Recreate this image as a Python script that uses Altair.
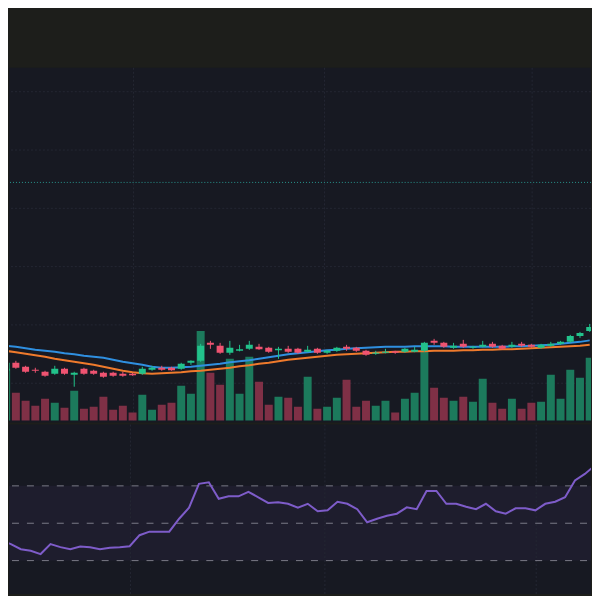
import altair as alt
import pandas as pd

# ---------------- data ----------------
opens = [63.0, 63.8, 63.4, 63.1, 62.9, 62.7, 63.2, 62.6, 63.2, 63.0,
         62.8, 62.8, 62.7, 62.7, 62.7, 63.1, 63.3, 63.3, 63.2, 63.8,
         64.0, 65.8, 65.5, 64.8, 65.0, 65.2, 65.4, 65.3, 65.05, 65.2,
         65.2, 64.9, 65.2, 64.8, 65.0, 65.4, 65.3, 65.0, 64.7, 64.8,
         64.95, 64.9, 64.9, 65.0, 66.0, 65.8, 65.3, 65.7, 65.3, 65.4,
         65.7, 65.5, 65.4, 65.7, 65.6, 65.3, 65.5, 65.7, 65.9, 66.5, 67.0]
highs = [64.0, 64.0, 63.5, 63.3, 63.0, 63.5, 63.3, 62.9, 63.3, 63.1,
         62.9, 62.9, 62.9, 62.8, 63.4, 63.5, 63.5, 63.4, 63.8, 64.05,
         65.7, 66.0, 65.8, 66.0, 65.6, 66.0, 65.7, 65.4, 65.4, 65.5,
         65.3, 65.5, 65.3, 65.1, 65.4, 65.6, 65.4, 65.1, 65.0, 65.2,
         65.0, 65.3, 65.4, 65.9, 66.2, 65.9, 65.8, 66.1, 65.5, 66.0,
         65.9, 65.6, 65.9, 65.9, 65.7, 65.7, 65.9, 66.0, 66.6, 66.9, 67.7]
lows = [62.8, 63.2, 62.8, 62.8, 62.4, 62.6, 62.6, 61.4, 62.6, 62.6,
        62.3, 62.4, 62.4, 62.5, 62.6, 63.0, 63.0, 63.0, 63.1, 63.6,
        63.9, 65.2, 64.7, 64.6, 64.95, 65.1, 65.1, 64.8, 64.2, 64.8,
        64.7, 64.85, 64.7, 64.7, 64.9, 65.0, 64.9, 64.5, 64.6, 64.75,
        64.7, 64.8, 64.85, 64.9, 65.6, 65.3, 65.2, 65.3, 65.2, 65.35,
        65.3, 65.1, 65.3, 65.4, 65.3, 65.2, 65.4, 65.6, 65.8, 66.3, 66.9]
closes = [63.8, 63.3, 62.9, 63.0, 62.5, 63.2, 62.7, 62.8, 62.7, 62.7,
          62.4, 62.5, 62.5, 62.55, 63.2, 63.3, 63.1, 63.05, 63.7, 64.0,
          65.5, 65.6, 64.8, 65.3, 65.15, 65.6, 65.15, 64.9, 65.2, 64.9,
          64.8, 65.1, 64.8, 65.0, 65.3, 65.2, 65.0, 64.6, 64.8, 64.9,
          64.8, 65.2, 65.1, 65.8, 65.8, 65.4, 65.5, 65.4, 65.4, 65.6,
          65.4, 65.2, 65.6, 65.5, 65.4, 65.6, 65.7, 65.9, 66.5, 66.8, 67.4]
volumes = [5200, 2800, 2000, 1500, 2200, 1800, 1300, 3000, 1200, 1400,
           2400, 1100, 1500, 800, 2600, 1100, 1600, 1800, 3500, 2700,
           9000, 4800, 3600, 6200, 2700, 6400, 3900, 1600, 2400, 2300,
           1400, 4400, 1200, 1400, 2300, 4100, 1400, 2000, 1500, 2000,
           800, 2200, 2800, 7000, 3300, 2300, 2000, 2400, 1900, 4200,
           1800, 1200, 2200, 1200, 1800, 1900, 4600, 2200, 5100, 4300, 6300]
ma_fast = [65.5, 65.4, 65.25, 65.1, 65.0, 64.9, 64.75, 64.65, 64.5, 64.4,
           64.3, 64.1, 63.9, 63.75, 63.6, 63.4, 63.3, 63.3, 63.35, 63.4,
           63.5, 63.6, 63.7, 63.85, 63.95, 64.05, 64.2, 64.35, 64.5, 64.65,
           64.75, 64.85, 64.95, 65.05, 65.1, 65.2, 65.25, 65.3, 65.35, 65.4,
           65.4, 65.4, 65.45, 65.45, 65.45, 65.45, 65.4, 65.4, 65.4, 65.4,
           65.4, 65.4, 65.45, 65.45, 65.5, 65.55, 65.6, 65.7, 65.8, 65.9, 66.05]
ma_slow = [65.0, 64.85, 64.7, 64.55, 64.4, 64.2, 64.05, 63.9, 63.75, 63.6,
           63.4, 63.2, 63.0, 62.85, 62.75, 62.7, 62.75, 62.8, 62.85, 62.95,
           63.0, 63.1, 63.2, 63.3, 63.45, 63.55, 63.7, 63.8, 63.95, 64.1,
           64.2, 64.3, 64.4, 64.5, 64.6, 64.65, 64.7, 64.75, 64.8, 64.85,
           64.9, 64.9, 64.95, 64.95, 65.0, 65.0, 65.0, 65.05, 65.05, 65.1,
           65.1, 65.15, 65.15, 65.2, 65.25, 65.3, 65.35, 65.4, 65.45, 65.5, 65.6]
rsi = [40.9, 38.8, 36.1, 35.3, 33.5, 38.8, 37.2, 36.1, 37.5, 37.2,
       36.1, 36.9, 37.2, 37.7, 43.6, 45.5, 45.5, 45.5, 52.4, 58.3,
       71.1, 71.9, 63.1, 64.4, 64.4, 66.8, 63.9, 60.9, 61.2, 60.4,
       58.3, 60.4, 56.4, 56.9, 61.5, 60.4, 57.5, 50.5, 52.4, 54.0,
       55.1, 58.5, 57.5, 67.3, 67.3, 60.4, 60.4, 58.8, 57.5, 60.4,
       56.4, 55.1, 58.0, 58.0, 56.9, 60.4, 61.5, 63.9, 72.9, 76.4, 80.9]

price_grid = [91.0, 85.15, 79.3, 73.45, 67.6, 61.75]
time_grid = [13.09, 32.73, 54.08]
rsi_levels = [30, 50, 70]
alert_price = [81.9]

# ---------------- styling ----------------
HEADER_BG = "#1d1e1b"
PANE_BG = "#171922"
GRID = "#242733"
UP = "#22c28b"
DOWN = "#ef5371"
UP_VOL = "#1c7a5c"
DOWN_VOL = "#7f3046"
MA_FAST = "#2f8fe0"
MA_SLOW = "#ef7a2c"
RSI_C = "#7e5cc9"
ALERT = "#2aa198"

W = 584
H_PRICE = 356
H_RSI = 170

df = pd.DataFrame({
    "i": list(range(len(opens))),
    "open": opens, "high": highs, "low": lows, "close": closes,
    "volume": volumes, "ma_fast": ma_fast, "ma_slow": ma_slow, "rsi": rsi,
})

xs = alt.Scale(domain=[0.806, 59.62], nice=False, zero=False)
ps = alt.Scale(domain=[57.8, 93.4], nice=False, zero=False)
vs = alt.Scale(domain=[-200, 35400], nice=False, zero=False)
rs = alt.Scale(domain=[12.13, 102.8], nice=False, zero=False)

X = alt.X("i:Q", scale=xs, axis=None)
up_cond = "datum.close >= datum.open"
base = alt.Chart(df)

# ---- price pane ----
hgrid = alt.Chart(pd.DataFrame({"p": price_grid})).mark_rule(
    color=GRID, strokeDash=[2, 2], strokeWidth=1
).encode(y=alt.Y("p:Q", scale=ps, axis=None))

vgrid = alt.Chart(pd.DataFrame({"t": time_grid})).mark_rule(
    color=GRID, strokeDash=[2, 2], strokeWidth=1
).encode(x=alt.X("t:Q", scale=xs, axis=None))

alert = alt.Chart(pd.DataFrame({"p": alert_price})).mark_rule(
    color=ALERT, strokeDash=[1, 2], strokeWidth=1, opacity=0.9
).encode(y=alt.Y("p:Q", scale=ps, axis=None))

vol = base.mark_bar(size=8, clip=True).encode(
    x=X,
    y=alt.Y("volume:Q", scale=vs, axis=None),
    y2=alt.datum(0),
    color=alt.condition(up_cond, alt.value(UP_VOL), alt.value(DOWN_VOL)),
)

slow = base.mark_line(color=MA_SLOW, strokeWidth=2, clip=True).encode(
    x=X, y=alt.Y("ma_slow:Q", scale=ps, axis=None))
fast = base.mark_line(color=MA_FAST, strokeWidth=2, clip=True).encode(
    x=X, y=alt.Y("ma_fast:Q", scale=ps, axis=None))

wick = base.mark_rule(strokeWidth=1, clip=True).encode(
    x=X,
    y=alt.Y("low:Q", scale=ps, axis=None),
    y2="high:Q",
    color=alt.condition(up_cond, alt.value(UP), alt.value(DOWN)),
)
body = base.mark_bar(size=7, clip=True).encode(
    x=X,
    y=alt.Y("open:Q", scale=ps, axis=None),
    y2="close:Q",
    color=alt.condition(up_cond, alt.value(UP), alt.value(DOWN)),
)

price_pane = alt.layer(
    hgrid, vgrid, alert, vol, slow, fast, wick, body
).resolve_scale(y="independent").properties(width=W, height=H_PRICE)

# ---- RSI pane ----
band = alt.Chart(pd.DataFrame({"lo": [30], "hi": [70]})).mark_rect(
    color=RSI_C, opacity=0.07
).encode(y=alt.Y("lo:Q", scale=rs, axis=None), y2="hi:Q")

levels = alt.Chart(pd.DataFrame({"lvl": rsi_levels})).mark_rule(
    color="#9a9aa6", strokeDash=[7, 8], strokeDashOffset=11, strokeWidth=1, opacity=0.75
).encode(y=alt.Y("lvl:Q", scale=rs, axis=None))

rsi_line = base.mark_line(color=RSI_C, strokeWidth=2, clip=True).encode(
    x=X, y=alt.Y("rsi:Q", scale=rs, axis=None))

rsi_pane = alt.layer(band, vgrid, levels, rsi_line).properties(width=W, height=H_RSI)

chart = alt.vconcat(price_pane, rsi_pane, spacing=0).properties(
    background=HEADER_BG,
    padding={"top": 58, "left": 0, "right": 0, "bottom": 0},
).configure_view(fill=PANE_BG, strokeWidth=0)

chart.save("out.html", embed_options={"renderer": "svg", "actions": False})
